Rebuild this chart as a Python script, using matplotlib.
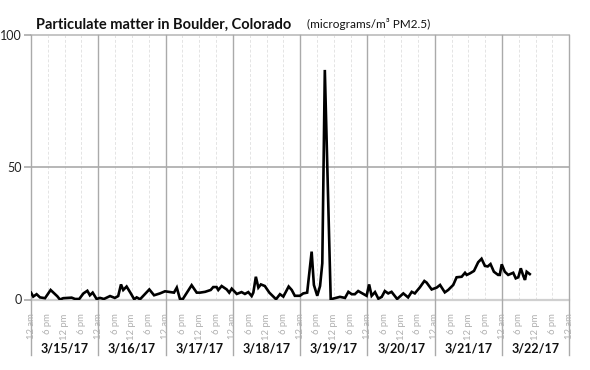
import matplotlib
matplotlib.use("Agg")
import matplotlib.pyplot as plt

plt.rcParams['font.family'] = ['Lato', 'DejaVu Sans']

# hours since 3/15/17 12 am, PM2.5 value
hours = [0, 0.8, 2.0, 3.2, 5.0, 7.0, 8.6, 9.4, 10.3, 11.5, 14.5, 15.7, 17.2, 18.7, 20.1,
         21.0, 22.0, 23.4, 24.6, 26.0, 28.2, 29.9, 31.1, 32.1, 32.9, 34.1, 35.6, 36.8,
         37.7, 38.9, 42.2, 43.9, 46.0, 47.8, 49.8, 51.0, 52.0, 53.1, 54.1, 57.3, 59.1,
         60.3, 62.1, 64.1, 65.0, 66.2, 66.8, 68.0, 69.8, 70.7, 71.6, 73.4, 75.1, 76.3,
         77.5, 78.7, 79.3, 80.2, 81.1, 82.0, 83.4, 85.0, 87.4, 88.8, 90.0, 91.9, 93.0,
         94.1, 95.9, 97.1, 98.5, 100.1, 100.9, 102.1, 103.1, 103.9, 104.8, 106.9, 108.4,
         110.2, 112.0, 113.2, 114.4, 115.5, 116.7, 118.5, 119.7, 120.6, 121.5, 122.7,
         123.9, 125.1, 126.2, 127.4, 128.6, 130.6, 132.8, 134.5, 135.8, 136.9, 138.7,
         140.3, 141.1, 142.9, 144.7, 145.9, 147.6, 148.8, 150.6, 151.8, 153.6, 154.8,
         155.4, 156.6, 158.0, 159.5, 160.7, 161.9, 162.9, 163.9, 165.1, 166.6, 167.2,
         167.9, 169.0, 170.2, 172.0, 172.9, 173.8, 174.7, 175.6, 176.2, 176.8, 177.9]
pm25 = [2.6, 1.1, 2.0, 0.8, 0.5, 3.6, 2.0, 1.2, 0.0, 0.5, 0.7, 0.2, 0.2, 2.3, 3.3,
        1.6, 2.6, 0.2, 0.6, 0.2, 1.3, 0.6, 1.3, 5.7, 3.6, 4.9, 2.3, 0.1,
        0.8, 0.1, 3.8, 1.6, 2.3, 3.1, 2.8, 2.6, 4.5, 0.3, 0.1, 5.4, 2.6,
        2.6, 2.9, 3.6, 4.7, 4.7, 3.6, 5.1, 3.8, 2.6, 4.1, 2.1, 2.8, 2.1,
        2.8, 1.3, 2.6, 8.6, 4.5, 5.7, 5.1, 2.6, 0.1, 2.0, 1.1, 4.9, 3.6,
        1.4, 1.4, 2.3, 2.6, 18.1, 5.5, 1.4, 5.1, 13.7, 86.8, 0.1, 0.5,
        1.0, 0.6, 2.9, 2.0, 2.0, 3.2, 2.1, 1.4, 5.7, 1.4, 2.8,
        0.3, 1.0, 3.2, 2.3, 2.9, 0.2, 2.3, 0.8, 2.9, 2.3, 4.6,
        7.0, 6.4, 3.8, 4.5, 5.5, 2.7, 3.6, 5.5, 8.4, 8.6, 10.1,
        9.3, 9.9, 10.8, 14.1, 15.4, 12.7, 12.5, 13.4, 10.5, 9.3, 9.3,
        13.3, 10.5, 9.3, 10.1, 8.0, 8.4, 11.8, 8.9, 7.4, 10.5, 9.6]

dates = ["3/15/17", "3/16/17", "3/17/17", "3/18/17", "3/19/17", "3/20/17", "3/21/17", "3/22/17"]
hour_labels = ["12 am", "6 pm", "12 pm", "6 pm"]
yticks = [0, 50, 100]

fig = plt.figure(figsize=(5.9, 3.7), dpi=100)
ax = fig.add_axes([31/590, 1-299.5/370, (569.3-31)/590, (299.5-35)/370])

ndays = len(dates)
ax.set_xlim(0, 24*ndays)
ax.set_ylim(0, 100)

# minor 6-hour lines
for d in range(ndays):
    for k in (1, 2, 3):
        ax.axvline(d*24 + 6*k, color='#e4e4e4', lw=0.7, ls=(0, (3, 2)), zorder=1)
# horizontal grid
ax.axhline(50, color='#aaaaaa', lw=1.2, zorder=1)
ax.axhline(100, color='#bbbbbb', lw=1.2, zorder=1, clip_on=False)
ax.axhline(0, color='#d0d0d0', lw=1.6, zorder=1, clip_on=False)
# day boundaries extending below axis
for d in range(ndays + 1):
    ax.plot([d*24, d*24], [100, -21], color='#aaaaaa', lw=1.0, clip_on=False, zorder=1)

ax.plot(hours, pm25, color='black', lw=1.9, zorder=3, solid_joinstyle='miter')

for s in ax.spines.values():
    s.set_visible(False)

# x tick labels
xt = []
xl = []
for d in range(ndays + 1):
    for k in range(4):
        if d == ndays and k > 0:
            break
        xt.append(d*24 + 6*k)
        xl.append(hour_labels[k])
ax.set_xticks(xt)
ax.set_xticklabels(xl, rotation=90, fontsize=6.8, color='#b0b0b0', va='top')
ax.tick_params(axis='x', length=0, pad=10)

ax.set_yticks(yticks)
ax.set_yticklabels([str(v) for v in yticks], fontsize=9, color='#222222')
ax.tick_params(axis='y', length=5, color='#aaaaaa', width=1.2, pad=1.5)

for d, lab in enumerate(dates):
    ax.text(d*24 + 12, -18.5, lab, ha='center', va='center', fontsize=9,
            fontweight='bold', color='#111111', clip_on=False)

fig.text(36/590, 1-25/370, "Particulate matter in Boulder, Colorado", fontsize=10.5,
         fontweight='bold', ha='left', va='center', color='#111111')
fig.text(307/590, 1-24/370, "(micrograms/m³ PM2.5)", fontsize=8.5,
         ha='left', va='center', color='#111111')

fig.savefig("out.png", dpi=100)
